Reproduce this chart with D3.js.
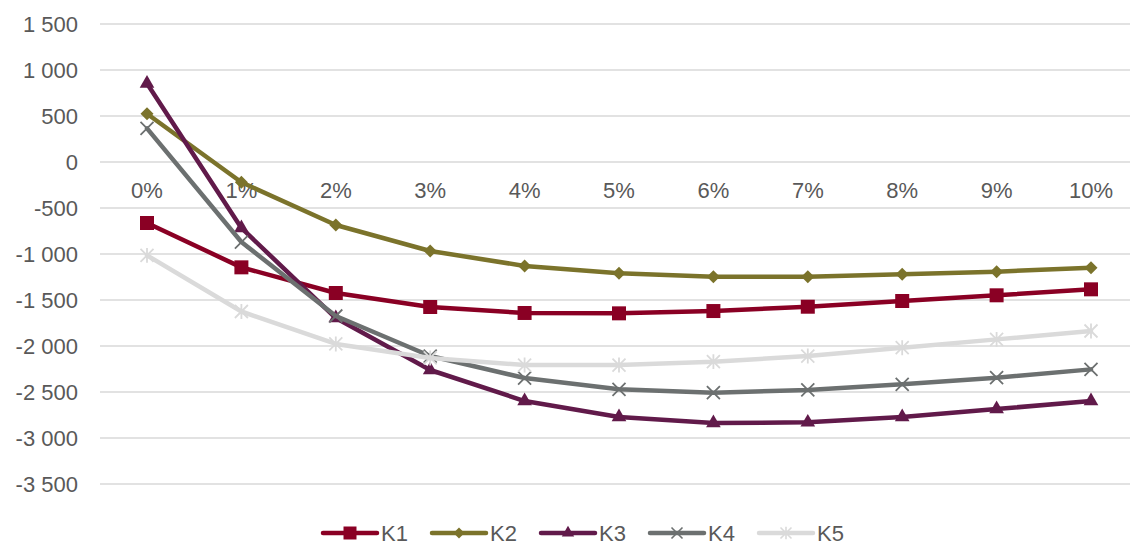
<!DOCTYPE html>
<html>
<head>
<meta charset="utf-8">
<script src="https://cdn.jsdelivr.net/npm/d3@7"></script>
<style>
  body { margin: 0; background: #fff; }
  text { font-family: "Liberation Sans", Arial, sans-serif; fill: #595959; }
</style>
</head>
<body>
<svg id="chart" width="1130" height="544"></svg>
<script>
const categories = ["0%", "1%", "2%", "3%", "4%", "5%", "6%", "7%", "8%", "9%", "10%"];
const seriesNames = ["K1", "K2", "K3", "K4", "K5"];
const k1 = [-663, -1145, -1424, -1576, -1641, -1645, -1620, -1573, -1511, -1449, -1384];
const k2 = [525, -220, -685, -967, -1130, -1210, -1246, -1246, -1221, -1192, -1149];
const k3 = [853, -717, -1696, -2261, -2598, -2772, -2837, -2830, -2772, -2685, -2598];
const k4 = [365, -870, -1674, -2109, -2348, -2471, -2507, -2478, -2417, -2344, -2254];
const k5 = [-1015, -1625, -1978, -2130, -2207, -2207, -2170, -2109, -2018, -1928, -1837];
const yTicks = [1500, 1000, 500, 0, -500, -1000, -1500, -2000, -2500, -3000, -3500];

const colors = ["#8a0024", "#7b732b", "#611a4a", "#6c7070", "#dadada"];
const markers = ["square", "diamond", "triangle", "x", "star"];
const allSeries = [k1, k2, k3, k4, k5];
const fontSize = 22;

const svg = d3.select("#chart");
const locale = d3.formatLocale({ decimal: ",", thousands: " ", grouping: [3], currency: ["", ""], minus: "-" });
const fmt = locale.format(",");

const x = d3.scalePoint().domain(categories).range([147, 1091]);
const y = d3.scaleLinear().domain([-3500, 1500]).range([484, 24]);

// grid
svg.append("g")
  .selectAll("line")
  .data(yTicks)
  .join("line")
  .attr("x1", 100).attr("x2", 1130)
  .attr("y1", d => y(d)).attr("y2", d => y(d))
  .attr("stroke", "#d9d9d9").attr("stroke-width", 1.3);

// y labels
svg.append("g")
  .selectAll("text")
  .data(yTicks)
  .join("text")
  .attr("x", 78).attr("y", d => y(d))
  .attr("dy", "0.35em")
  .attr("text-anchor", "end")
  .attr("font-size", fontSize)
  .text(d => fmt(d));

// x labels sit under zero line
svg.append("g")
  .selectAll("text")
  .data(categories)
  .join("text")
  .attr("x", d => x(d)).attr("y", y(0) + 28.5)
  .attr("dy", "0.35em")
  .attr("text-anchor", "middle")
  .attr("font-size", fontSize)
  .text(d => d);

function markerPath(type, s) {
  const h = s / 2;
  if (type === "square") return d3.symbol(d3.symbolSquare, s * s)();
  if (type === "diamond") return `M0,${-h}L${h},0L0,${h}L${-h},0Z`;
  if (type === "triangle") return d3.symbol(d3.symbolTriangle, s * s * 0.55)();
  if (type === "x") return `M${-h},${-h}L${h},${h}M${-h},${h}L${h},${-h}`;
  return `M${-h},${-h}L${h},${h}M${-h},${h}L${h},${-h}M0,${-h * 1.15}L0,${h * 1.15}`;
}

const line = d3.line().x((d, i) => x(categories[i])).y(d => y(d));

allSeries.forEach((vals, si) => {
  const g = svg.append("g");
  g.append("path")
    .attr("d", line(vals))
    .attr("fill", "none")
    .attr("stroke", colors[si])
    .attr("stroke-width", 4.5)
    .attr("stroke-linejoin", "round")
    .attr("stroke-linecap", "round");
  const m = markers[si];
  const open = m === "x" || m === "star";
  g.selectAll("path.mk")
    .data(vals)
    .join("path")
    .attr("class", "mk")
    .attr("transform", (d, i) => `translate(${x(categories[i])},${y(d)})`)
    .attr("d", markerPath(m, m === "square" ? 14 : 13))
    .attr("fill", open ? "none" : colors[si])
    .attr("stroke", colors[si])
    .attr("stroke-width", open ? 1.8 : 0);
});

// legend
const legend = svg.append("g");
const legX = [323, 432, 541, 650, 759];
seriesNames.forEach((name, i) => {
  const gx = legX[i], gy = 533;
  legend.append("line")
    .attr("x1", gx).attr("x2", gx + 54)
    .attr("y1", gy).attr("y2", gy)
    .attr("stroke", colors[i]).attr("stroke-width", 4.5)
    .attr("stroke-linecap", "round");
  const m = markers[i];
  const open = m === "x" || m === "star";
  legend.append("path")
    .attr("transform", `translate(${gx + 27},${gy})`)
    .attr("d", markerPath(m, m === "square" ? 13 : 11))
    .attr("fill", open ? "none" : colors[i])
    .attr("stroke", colors[i])
    .attr("stroke-width", open ? 1.6 : 0);
  legend.append("text")
    .attr("x", gx + 58).attr("y", gy)
    .attr("dy", "0.35em")
    .attr("font-size", fontSize)
    .text(name);
});
</script>
</body>
</html>
